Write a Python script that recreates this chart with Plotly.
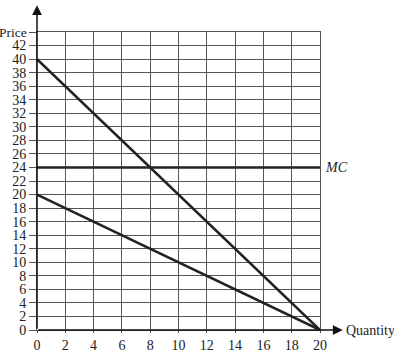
import plotly.graph_objects as go

# Data
demand_q = [0, 20]
demand_p = [40, 0]
mr_q = [0, 20]
mr_p = [20, 0]
mc_q = [0, 20]
mc_p = [24, 24]

x_ticks = list(range(0, 21, 2))
y_ticks = list(range(0, 45, 2))
y_ticktext = [str(v) for v in y_ticks[:-1]] + [""]

FONT = "Liberation Serif"
LINE = "#222222"
GRID = "#555555"
FS = 14

fig = go.Figure()
for q, p in [(demand_q, demand_p), (mr_q, mr_p), (mc_q, mc_p)]:
    fig.add_trace(go.Scatter(x=q, y=p, mode="lines",
                             line=dict(color=LINE, width=2.6),
                             showlegend=False, hoverinfo="skip"))

fig.update_layout(
    width=394, height=352,
    margin=dict(l=37, r=74, t=32, b=22),
    paper_bgcolor="white", plot_bgcolor="white",
    font=dict(family=FONT, size=FS, color="#222"),
    xaxis=dict(range=[0, 20], tickvals=x_ticks, ticktext=[str(v) for v in x_ticks],
               showgrid=True, gridcolor=GRID, gridwidth=1,
               ticks="outside", ticklen=2, tickcolor=GRID,
               showline=True, linecolor=GRID, mirror=True, zeroline=False,
               automargin=False,
               tickfont=dict(family=FONT, size=FS, color="#222")),
    yaxis=dict(range=[0, 44], tickvals=y_ticks, ticktext=y_ticktext,
               showgrid=True, gridcolor=GRID, gridwidth=1,
               ticks="outside", ticklen=7, tickcolor=GRID,
               showline=True, linecolor=GRID, mirror=True, zeroline=False,
               automargin=False,
               tickfont=dict(family=FONT, size=FS, color="#222")),
)

# "Price" label at the top tick
fig.add_annotation(xref="paper", yref="y", x=0, y=44, xanchor="right",
                   yanchor="middle", xshift=-8, showarrow=False, text="Price",
                   font=dict(family=FONT, size=13.5, color="#222"))

# axis arrows
fig.add_annotation(xref="paper", yref="paper", x=0, y=1.09, ax=0, ay=325,
                   axref="pixel", ayref="pixel", showarrow=True, arrowhead=2,
                   arrowsize=1.3, arrowwidth=1.5, arrowcolor="#111", text="")
fig.add_annotation(xref="paper", yref="paper", x=1.08, y=0, ax=-306, ay=0,
                   showarrow=True, arrowhead=2, arrowsize=1.3, arrowwidth=1.5,
                   arrowcolor="#111", text="")
fig.add_annotation(xref="paper", yref="paper", x=1.085, y=0, xanchor="left",
                   yanchor="middle", showarrow=False, text="Quantity",
                   xshift=0, font=dict(family=FONT, size=FS))
fig.add_annotation(xref="paper", yref="y", x=1.01, y=24, xanchor="left",
                   yanchor="middle", showarrow=False, text="<i>MC</i>",
                   font=dict(family=FONT, size=FS))

fig.write_html("out.html")
